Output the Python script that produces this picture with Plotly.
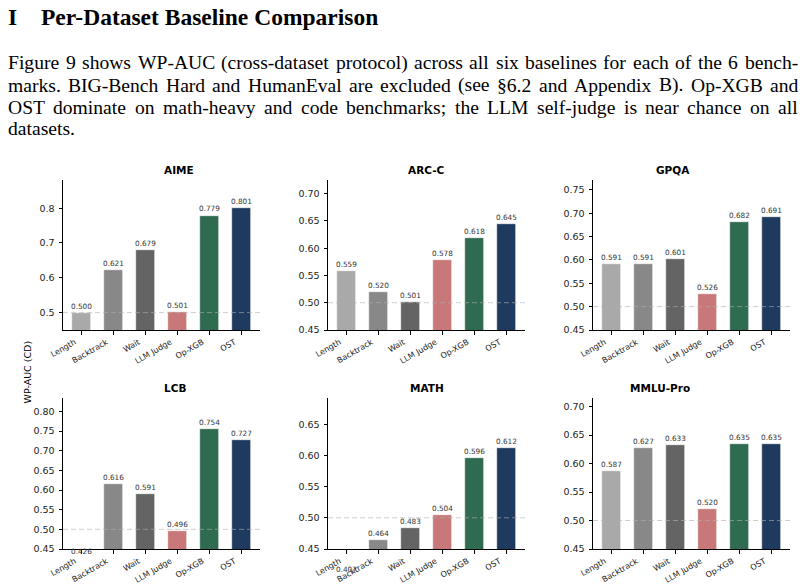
import plotly.graph_objects as go

# ---------------- data ----------------
methods = ["Length", "Backtrack", "Wait", "LLM Judge", "Op-XGB", "OST"]
datasets = ["AIME", "ARC-C", "GPQA", "LCB", "MATH", "MMLU-Pro"]
aime = [0.500, 0.621, 0.679, 0.501, 0.779, 0.801]
arc_c = [0.559, 0.520, 0.501, 0.578, 0.618, 0.645]
gpqa = [0.591, 0.591, 0.601, 0.526, 0.682, 0.691]
lcb = [0.426, 0.616, 0.591, 0.496, 0.754, 0.727]
math_ = [0.407, 0.464, 0.483, 0.504, 0.596, 0.612]
mmlu_pro = [0.587, 0.627, 0.633, 0.520, 0.635, 0.635]
values = [aime, arc_c, gpqa, lcb, math_, mmlu_pro]
colors = ["#a9a9a9", "#888888", "#646464", "#c87878", "#2e6b50", "#1f3a5f"]

heading_num = "I"
heading = "Per-Dataset Baseline Comparison"
para_lines = [
    "Figure 9 shows WP-AUC (cross-dataset protocol) across all six baselines for each of the 6 bench-",
    "marks.  BIG-Bench Hard and HumanEval are excluded (see §6.2 and Appendix B). Op-XGB and",
    "OST dominate on math-heavy and code benchmarks; the LLM self-judge is near chance on all",
    "datasets.",
]

W, H = 804, 588
def px(x):
    return x / W
def py(y):
    return 1 - y / H

# panel geometry in pixels
cols = [(63, 260), (328, 525), (593, 790)]
rows = [(180, 330), (398, 549)]

fig = go.Figure()
annotations = []
shapes = []
x_lo, x_hi = -0.58, 5.58
y_lo = 0.45
for k, (name, vals) in enumerate(zip(datasets, values)):
    r, c = divmod(k, 3)
    ax = "" if k == 0 else str(k + 1)
    xa, ya = "x" + ax, "y" + ax
    fig.add_trace(go.Bar(
        x=list(range(6)), y=vals, width=0.6,
        marker=dict(color=colors, line=dict(color="white", width=0.6)),
        xaxis=xa, yaxis=ya, showlegend=False, hoverinfo="skip",
    ))
    top = max(vals) + 0.08
    x0, x1 = cols[c]
    y0, y1 = rows[r]
    lay_x = "xaxis" + ax
    lay_y = "yaxis" + ax
    fig.layout[lay_x] = dict(
        domain=[px(x0), px(x1)], anchor=ya, range=[x_lo, x_hi],
        tickmode="array", tickvals=list(range(6)), ticktext=methods,
        tickangle=-30, tickfont=dict(family="DejaVu Sans", size=8, color="#222"),
        ticklabelshift=-7, automargin=False,
        showline=True, linecolor="black", linewidth=1, ticks="outside",
        ticklen=3.5, tickcolor="black", showgrid=False, zeroline=False,
    )
    fig.layout[lay_y] = dict(
        domain=[py(y1), py(y0)], anchor=xa, range=[y_lo, top],
        dtick=0.1 if k == 0 else 0.05, tick0=0,
        tickformat=".1f" if k == 0 else ".2f",
        tickfont=dict(family="DejaVu Sans", size=9.5, color="#222"),
        ticklabelstandoff=2, automargin=False,
        showline=True, linecolor="black", linewidth=1, ticks="outside",
        ticklen=3.5, tickcolor="black", showgrid=False, zeroline=False,
    )
    shapes.append(dict(type="line", xref=xa + " domain", yref=ya, x0=0, x1=1,
                       y0=0.5, y1=0.5,
                       line=dict(color="rgba(175,175,175,0.6)", width=1, dash="5px,3px")))
    # value labels (domain-relative so labels of clipped bars still show, as in the original)
    for i, v in enumerate(vals):
        annotations.append(dict(x=i, y=(v - y_lo) / (top - y_lo), xref=xa, yref=ya + " domain",
                                text=f"{v:.3f}", showarrow=False, yanchor="bottom", yshift=0,
                                font=dict(family="DejaVu Sans", size=7.3, color="#333")))
    annotations.append(dict(x=px((x0 + x1) / 2), y=py(y0 - 10), xref="paper", yref="paper",
                            text=f"<b>{name}</b>", showarrow=False, yanchor="middle",
                            font=dict(family="DejaVu Sans", size=10.5, color="black")))

annotations.append(dict(x=px(19), y=py(372), xref="paper", yref="paper", text="WP-AUC (CD)",
                        textangle=-90, showarrow=False, yanchor="middle",
                        font=dict(family="DejaVu Sans", size=9.5, color="black")))

# ---------- text block (heading + justified paragraph) ----------
serif = "Liberation Serif"
hs = 23.5
annotations.append(dict(x=px(6), y=py(17), xref="paper", yref="paper", text=f"<b>{heading_num}</b>",
                        xanchor="left", yanchor="middle", showarrow=False,
                        font=dict(family=serif, size=hs, color="black")))
annotations.append(dict(x=px(39), y=py(17), xref="paper", yref="paper", text=f"<b>{heading}</b>",
                        xanchor="left", yanchor="middle", showarrow=False,
                        font=dict(family=serif, size=hs, color="black")))

tw = {' ': 250, 'a': 444, 'b': 500, 'c': 444, 'd': 500, 'e': 444, 'f': 333, 'g': 500, 'h': 500,
      'i': 278, 'j': 278, 'k': 500, 'l': 278, 'm': 778, 'n': 500, 'o': 500, 'p': 500, 'q': 500,
      'r': 333, 's': 389, 't': 278, 'u': 500, 'v': 500, 'w': 722, 'x': 500, 'y': 500, 'z': 444,
      'A': 722, 'B': 667, 'C': 667, 'D': 722, 'E': 611, 'F': 556, 'G': 722, 'H': 722, 'I': 333,
      'J': 389, 'K': 722, 'L': 611, 'M': 889, 'N': 722, 'O': 722, 'P': 556, 'Q': 722, 'R': 667,
      'S': 556, 'T': 611, 'U': 722, 'V': 722, 'W': 944, 'X': 722, 'Y': 722, 'Z': 611,
      '.': 250, ',': 250, '-': 333, '(': 333, ')': 333, ';': 278, ':': 278, '§': 500}
def tw_of(s, size):
    return sum(tw.get(ch, 500) for ch in s) / 1000 * size

fs = 19.6
left, right = 7, 797
line_y = [63, 85, 107, 128.5]
for li, line in enumerate(para_lines):
    words = line.split()
    if li == len(para_lines) - 1:
        annotations.append(dict(x=px(left), y=py(line_y[li]), xref="paper", yref="paper",
                                text=line, xanchor="left", yanchor="middle", showarrow=False,
                                xshift=-1, font=dict(family=serif, size=fs, color="black")))
        continue
    widths = [tw_of(w, fs) for w in words]
    gap = (right - left - sum(widths)) / (len(words) - 1)
    xpos = left
    for w, wd in zip(words, widths):
        annotations.append(dict(x=px(xpos), y=py(line_y[li]), xref="paper", yref="paper",
                                text=w, xanchor="left", yanchor="middle", showarrow=False,
                                xshift=-1, font=dict(family=serif, size=fs, color="black")))
        xpos += wd + gap

fig.update_layout(
    width=W, height=H, margin=dict(l=0, r=0, t=0, b=0, autoexpand=False),
    paper_bgcolor="white", plot_bgcolor="white",
    annotations=annotations, shapes=shapes, bargap=0, barmode="overlay",
)
fig.write_html("out.html")
